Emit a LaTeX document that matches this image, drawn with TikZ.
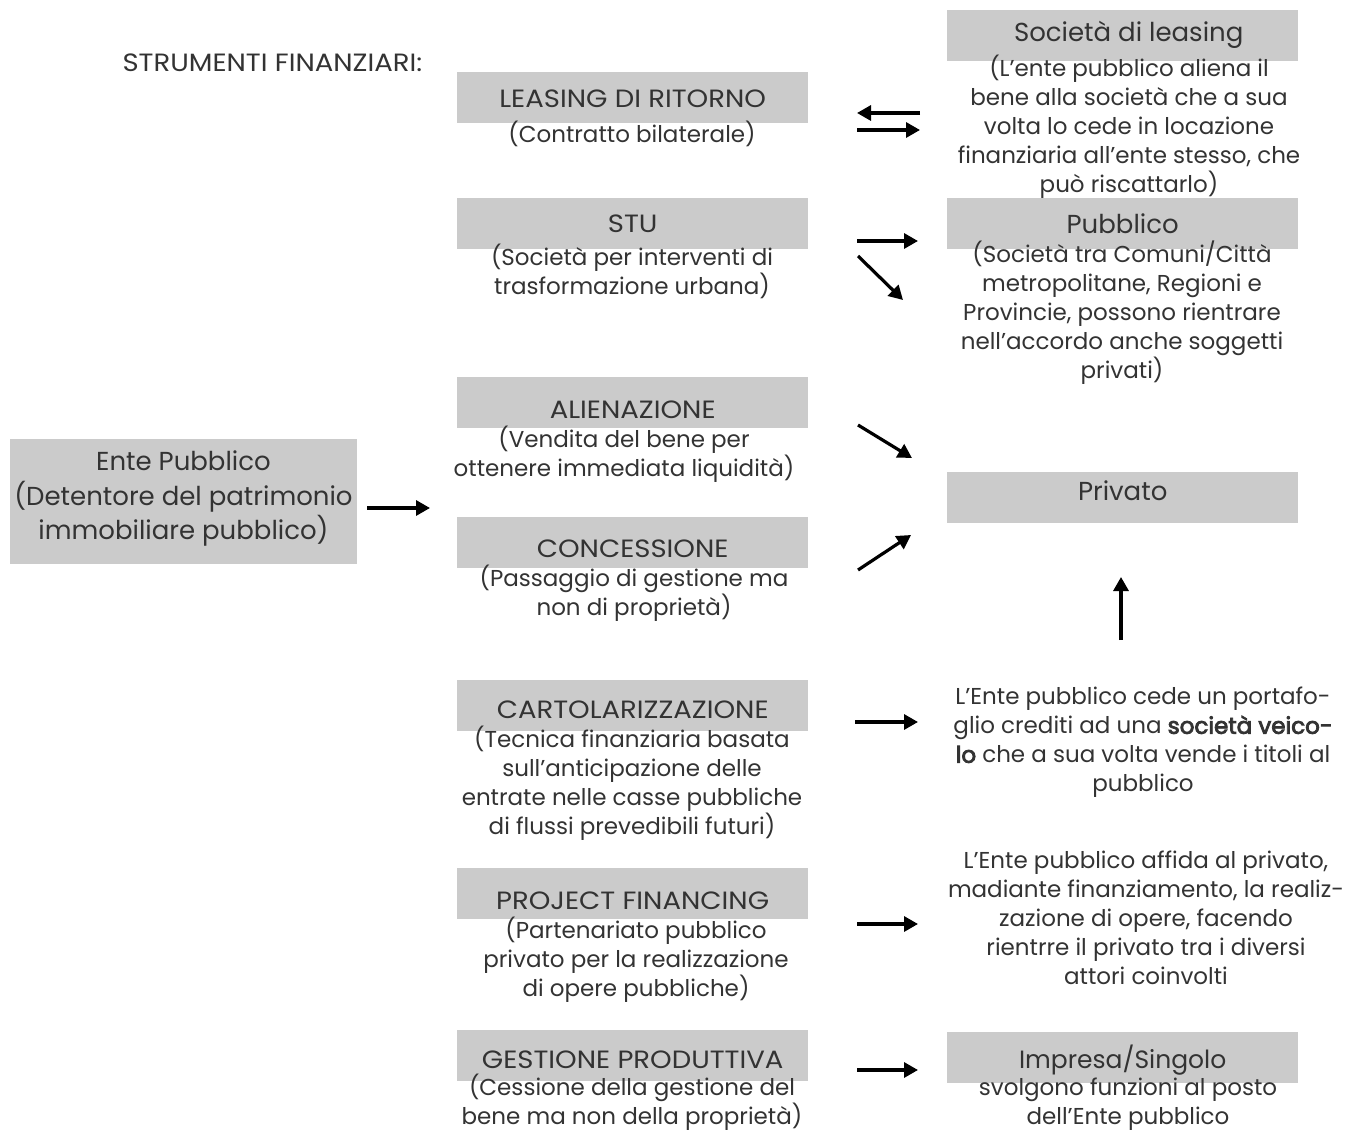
\documentclass[tikz,border=0pt]{standalone}
\usepackage{fontspec}
\setmainfont{Poppins}
\newfontfamily\semibf{Poppins}[FakeBold=3.5]
\usetikzlibrary{arrows.meta}
\definecolor{boxgray}{HTML}{CBCBCB}
\definecolor{txt}{HTML}{333333}
\newcommand{\capsfont}{\fontsize{25}{29}\selectfont\addfontfeature{FakeStretch=1.1}}
\newcommand{\lowfont}{\fontsize{26}{29}\selectfont}
\begin{document}
\begin{tikzpicture}[x=1pt,y=-1pt,
  every node/.style={text=txt,font=\fontsize{23}{29}\selectfont},
  gbox/.style={fill=boxgray,minimum width=351pt,minimum height=51pt,inner sep=0pt,anchor=north west,
               text height=#1,text depth=0pt},
  desc/.style={align=center,inner sep=0pt,anchor=north},
  arr/.style={line width=3.2pt,-{Triangle[length=14pt,width=15pt]},black}]
\useasboundingbox (0,0) rectangle (1346,1131);
\fill[white] (0,0) rectangle (1346,1131);

\node[anchor=west,font=\capsfont] (title) at (119,63) {STRUMENTI FINANZIARI:};

% Ente pubblico
\node[fill=boxgray,minimum width=347pt,minimum height=125pt,inner sep=0pt] (ente) at (183.5,501.5) {};
\node[align=center,inner sep=0pt,font=\fontsize{26}{34.5}\selectfont] (entet) at (183.5,498.5)
  {Ente Pubblico\\(Detentore del patrimonio\\immobiliare pubblico)};

% middle column
\node[gbox=20pt,font=\capsfont] (leas) at (457,72) {LEASING DI RITORNO};
\node[desc] (leasd) at (632,121) {(Contratto bilaterale)};
\node[gbox=17pt,font=\capsfont] (stu) at (457,198) {STU};
\node[desc] (stud) at (632,244) {(Società per interventi di\\trasformazione urbana)};
\node[gbox=31pt,font=\capsfont] (ali) at (457,377) {ALIENAZIONE};
\node[desc] (alid) at (624,426) {(Vendita del bene per\\ottenere immediata liquidità)};
\node[gbox=30pt,font=\capsfont] (con) at (457,517) {CONCESSIONE};
\node[desc] (cond) at (634,565) {(Passaggio di gestione ma\\non di proprietà)};
\node[gbox=25pt,font=\capsfont] (cart) at (457,680) {CARTOLARIZZAZIONE};
\node[desc] (cartd) at (632,726) {(Tecnica finanziaria basata\\sull'anticipazione delle\\entrate nelle casse pubbliche\\di flussi prevedibili futuri)};
\node[gbox=31pt,font=\capsfont] (proj) at (457,868) {PROJECT FINANCING};
\node[desc] (projd) at (636,917) {(Partenariato pubblico\\privato per la realizzazione\\di opere pubbliche)};
\node[gbox=25pt,font=\capsfont] (gest) at (457,1030) {GESTIONE PRODUTTIVA};
\node[desc] (gestd) at (632,1074) {(Cessione della gestione del\\bene ma non della proprietà)};

% right column
\node[gbox=11pt,font=\lowfont] (soc) at (947,10) {\hspace*{12pt}Società di leasing};
\node[desc] (socd) at (1129,55) {(L'ente pubblico aliena il\\bene alla società che a sua\\volta lo cede in locazione\\finanziaria all'ente stesso, che\\può riscattarlo)};
\node[gbox=19pt,font=\lowfont] (pub) at (947,198) {Pubblico};
\node[desc] (pubd) at (1122,241) {(Società tra Comuni/Città\\metropolitane, Regioni e\\Provincie, possono rientrare\\nell'accordo anche soggetti\\privati)};
\node[gbox=5pt,font=\lowfont] (priv) at (947,472) {Privato};
\node[desc] (cartr) at (1143,687) {L'Ente pubblico cede un portafo-\\glio crediti ad una {\semibf società veico-}\\{\semibf lo} che a sua volta vende i titoli al\\pubblico};
\node[desc] (projr) at (1146,851) {L'Ente pubblico affida al privato,\\madiante finanziamento, la realiz-\\zazione di opere, facendo\\rientrre il privato tra i diversi\\attori coinvolti};
\node[gbox=22pt,font=\fontsize{25}{29}\selectfont] (imp) at (947,1032) {Impresa/Singolo};
\node[desc] (impd) at (1128,1078) {svolgono funzioni al posto\\dell'Ente pubblico};

% arrow end points
\coordinate (l1a) at (920,113); \coordinate (l1b) at (857,113);
\coordinate (l2a) at (857,130); \coordinate (l2b) at (920,130);
\coordinate (s1a) at (857,241); \coordinate (s1b) at (918,241);
\coordinate (s2a) at (858,256); \coordinate (s2b) at (903,300);
\coordinate (ea) at (367,508);  \coordinate (eb) at (430,508);
\coordinate (aa) at (858,425);  \coordinate (ab) at (912,458);
\coordinate (ca) at (858,570);  \coordinate (cb) at (911,535);
\coordinate (ua) at (1121,640); \coordinate (ub) at (1121,577);
\coordinate (ka) at (855,722);  \coordinate (kb) at (918,722);
\coordinate (pa) at (857,924);  \coordinate (pb) at (918,924);
\coordinate (ga) at (857,1070); \coordinate (gb) at (918,1070);

\draw[arr] (l1a) -- (l1b);
\draw[arr] (l2a) -- (l2b);
\draw[arr] (s1a) -- (s1b);
\draw[arr] (s2a) -- (s2b);
\draw[arr] (ea) -- (eb);
\draw[arr] (aa) -- (ab);
\draw[arr] (ca) -- (cb);
\draw[arr] (ua) -- (ub);
\draw[arr] (ka) -- (kb);
\draw[arr] (pa) -- (pb);
\draw[arr] (ga) -- (gb);
\end{tikzpicture}
\end{document}
